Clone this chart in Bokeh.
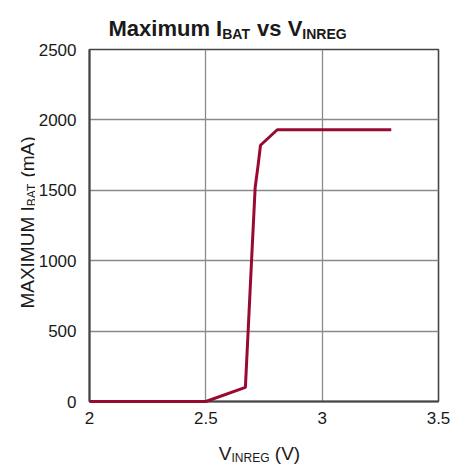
import math
from bokeh.plotting import figure
from bokeh.models import Range1d, FixedTicker, Label
from bokeh.layouts import row, column
from bokeh.embed import file_html
from bokeh.resources import INLINE

# ---- data ----
v_inreg = [2.0, 2.5, 2.67, 2.698, 2.712, 2.724, 2.735, 2.807, 3.297]
i_bat_max = [0, 0, 100, 1050, 1520, 1670, 1820, 1930, 1930]
x_ticks = [2.0, 2.5, 3.0, 3.5]
x_tick_labels = {2.0: "2", 2.5: "2.5", 3.0: "3", 3.5: "3.5"}
y_ticks = [0, 500, 1000, 1500, 2000, 2500]

FONT = "Liberation Sans"
TEXT_COLOR = "#1a1a1a"
LINE_COLOR = "#990a32"

# overall page: 451 x 464 -> ylabel strip + column(title, plot, xlabel)
YL_W = 35
COL_W = 451 - YL_W
TITLE_H, PLOT_H, XL_H = 41, 392, 31

p = figure(width=COL_W, height=PLOT_H, output_backend="svg", toolbar_location=None,
           x_range=Range1d(2.0, 3.5), y_range=Range1d(0, 2500),
           min_border_left=86 - YL_W, min_border_right=13,
           min_border_top=8, min_border_bottom=32)
p.background_fill_color = "white"
p.border_fill_color = "white"
p.outline_line_color = "#454545"
p.outline_line_width = 1.6

for ax in (p.xaxis[0], p.yaxis[0]):
    ax.axis_line_color = "#454545"
    ax.axis_line_width = 2
    ax.major_tick_line_color = None
    ax.minor_tick_line_color = None
    ax.major_tick_out = 0
    ax.major_tick_in = 0
    ax.major_label_text_font = FONT
    ax.major_label_text_font_size = "17px"
    ax.major_label_text_color = TEXT_COLOR

p.xaxis.ticker = FixedTicker(ticks=x_ticks)
p.xaxis.major_label_overrides = x_tick_labels
p.xaxis.major_label_standoff = 10
p.yaxis.ticker = FixedTicker(ticks=y_ticks)
p.yaxis.major_label_standoff = 13

p.xgrid.ticker = FixedTicker(ticks=x_ticks)
p.ygrid.ticker = FixedTicker(ticks=y_ticks)
for g in (p.xgrid[0], p.ygrid[0]):
    g.grid_line_color = "#8a8a8a"
    g.grid_line_width = 1.3

p.line(v_inreg, i_bat_max, line_color=LINE_COLOR, line_width=3, level="overlay")


def text_fig(w, h):
    f = figure(width=w, height=h, output_backend="svg", toolbar_location=None,
               x_range=Range1d(0, 1), y_range=Range1d(0, 1),
               x_axis_type=None, y_axis_type=None, min_border=0)
    f.outline_line_color = None
    f.background_fill_color = "white"
    f.border_fill_color = "white"
    return f


# Liberation Sans advance widths (em)
REG = {"M": .833, "A": .667, "X": .667, "I": .278, "U": .722, " ": .278,
       "B": .667, "T": .611, "(": .333, "m": .833, ")": .333, "V": .667,
       "N": .722, "R": .722, "E": .667, "G": .778}
BOLD = {"M": .833, "a": .556, "x": .556, "i": .278, "m": .889, "u": .611,
        " ": .278, "I": .278, "B": .722, "A": .722, "T": .611, "v": .556,
        "s": .556, "V": .667, "N": .722, "R": .722, "E": .667, "G": .778}


def width(s, size, bold=False):
    tbl = BOLD if bold else REG
    return sum(tbl.get(c, .55) for c in s) * size


def add(fig, text, x, y, size, bold=False, angle=0.0):
    fig.add_layout(Label(x=x, y=y, x_units="canvas", y_units="canvas", text=text,
                         text_font=FONT, text_font_size=f"{size}px",
                         text_font_style="bold" if bold else "normal",
                         text_color=TEXT_COLOR, text_align="left",
                         text_baseline="alphabetic", angle=angle))


# pieces: (text, is_subscript, leading_space)
title_parts = [("Maximum I", False, False), ("BAT", True, False),
               ("vs V", False, True), ("INREG", True, False)]
xlabel_parts = [("V", False, False), ("INREG", True, False), ("(V)", False, True)]
ylabel_parts = [("MAXIMUM I", False, False), ("BAT", True, False), ("(mA)", False, True)]


def advance(txt, sz, lead, main_sz, bold=False):
    return width(txt, sz, bold) + (width(" ", main_sz, bold) if lead else 0)


# title: Maximum I_BAT vs V_INREG
t = text_fig(COL_W, TITLE_H)
tx, big, small = 108 - YL_W, 22, 14
for txt, is_sub, lead in title_parts:
    sz = small if is_sub else big
    if lead:
        tx += width(" ", big, True)
    add(t, txt, tx, 33 if is_sub else 28, sz, bold=True)
    tx += width(txt, sz, bold=True)

# x axis label: V_INREG (V)
main, sub = 19, 12
xl = text_fig(COL_W, XL_H)
total = sum(advance(s, sub if b else main, l, main) for s, b, l in xlabel_parts)
xs = 259 - YL_W - total / 2
for txt, is_sub, lead in xlabel_parts:
    sz = sub if is_sub else main
    if lead:
        xs += width(" ", main)
    add(xl, txt, xs, 24 if is_sub else 20, sz)
    xs += width(txt, sz)

# y axis label (rotated, reading upward): MAXIMUM I_BAT (mA)
yl = text_fig(YL_W, TITLE_H + PLOT_H + XL_H)
total = sum(advance(s, sub if b else main, l, main) for s, b, l in ylabel_parts)
ys = 222 + total / 2
for txt, is_sub, lead in ylabel_parts:
    sz = sub if is_sub else main
    if lead:
        ys -= width(" ", main)
    add(yl, txt, 31 if is_sub else 27, ys, sz, angle=math.pi / 2)
    ys -= width(txt, sz)

layout = row(yl, column(t, p, xl, spacing=0), spacing=0)
open("out.html", "w").write(file_html(layout, INLINE))
